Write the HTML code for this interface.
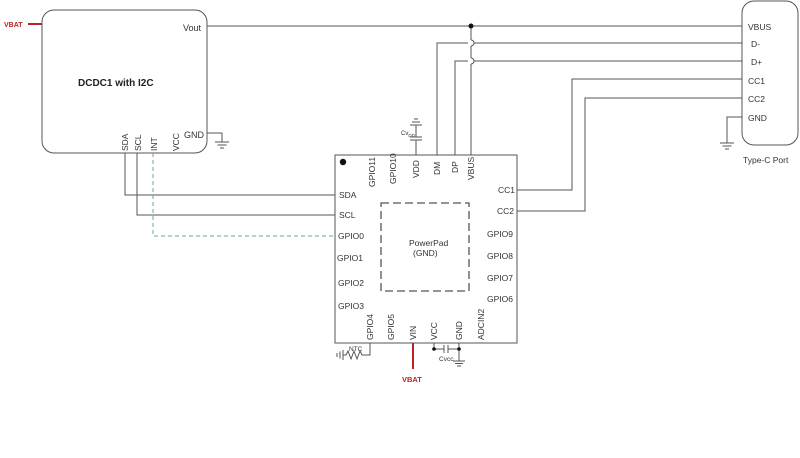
<!DOCTYPE html>
<html><head><meta charset="utf-8"><style>
html,body{margin:0;padding:0;background:#fff;}
svg{display:block;}
text{font-family:"Liberation Sans",sans-serif;font-size:8.5px;fill:#333;}
</style></head><body>
<svg width="800" height="458" viewBox="0 0 800 458" xmlns="http://www.w3.org/2000/svg">
<g fill="none" stroke="#555" stroke-width="1">
<!-- DCDC box -->
<rect x="42" y="10" width="165" height="143" rx="12"/>
<!-- Type-C -->
<rect x="742" y="1" width="56" height="144" rx="12"/>
<!-- chip -->
<rect x="335" y="155" width="182" height="188"/>
<rect x="381" y="203" width="88" height="88" stroke-dasharray="8,4" stroke-width="1.3"/>
<!-- Vout / VBUS -->
<line x1="207" y1="26" x2="742" y2="26"/>
<line x1="471" y1="26" x2="471" y2="40"/>
<path d="M471 40 a3 3 0 0 1 0 6"/>
<line x1="471" y1="46" x2="471" y2="58"/>
<path d="M471 58 a3 3 0 0 1 0 6"/>
<line x1="471" y1="64" x2="471" y2="155"/>
<!-- D- -->
<polyline points="437,155 437,43 468,43"/>
<line x1="474" y1="43" x2="742" y2="43"/>
<!-- D+ -->
<polyline points="455,155 455,61 468,61"/>
<line x1="474" y1="61" x2="742" y2="61"/>
<!-- CC1/CC2 -->
<polyline points="742,79 572,79 572,190 517,190"/>
<polyline points="742,98 585,98 585,211 517,211"/>
<!-- type-c GND -->
<polyline points="742,117 727,117 727,143"/>
<line x1="720" y1="143" x2="734" y2="143"/><line x1="722.5" y1="146" x2="731.5" y2="146"/><line x1="725" y1="149" x2="729" y2="149"/>
<!-- DCDC GND -->
<polyline points="207,133 222,133 222,142"/>
<line x1="215" y1="142" x2="229" y2="142"/><line x1="217.5" y1="145" x2="226.5" y2="145"/><line x1="220" y1="148" x2="224" y2="148"/>
<!-- SDA SCL -->
<polyline points="125,153 125,195 335,195"/>
<polyline points="137,153 137,215 335,215"/>
<polyline points="153,153 153,236 335,236" stroke="#6a9" stroke-dasharray="4,3"/>
<!-- VDD cap -->
<line x1="416" y1="155" x2="416" y2="140"/>
<line x1="410" y1="140" x2="422" y2="140"/><line x1="410" y1="137" x2="422" y2="137"/>
<line x1="416" y1="137" x2="416" y2="125"/>
<line x1="410" y1="125" x2="422" y2="125"/><line x1="412" y1="122" x2="420" y2="122"/><line x1="414" y1="119" x2="418" y2="119"/>
<!-- bottom VCC cap -->
<line x1="434" y1="343" x2="434" y2="349"/>
<polyline points="434,349 444,349"/>
<line x1="444" y1="345" x2="444" y2="353"/><line x1="448" y1="345" x2="448" y2="353"/>
<polyline points="448,349 459,349"/>
<line x1="459" y1="343" x2="459" y2="361"/>
<line x1="453" y1="361" x2="465" y2="361"/><line x1="455" y1="363.5" x2="463" y2="363.5"/><line x1="457" y1="366" x2="461" y2="366"/>
<!-- NTC -->
<polyline points="370,343 370,355 362,355 360,351 357,359 354,351 351,359 348,351 346,355 343,355"/>
<line x1="343" y1="350" x2="343" y2="360"/><line x1="340" y1="351.5" x2="340" y2="358.5"/><line x1="337" y1="353" x2="337" y2="357"/>
</g>
<circle cx="471" cy="26" r="2.5" fill="#111"/>
<circle cx="434" cy="349" r="1.8" fill="#111"/>
<circle cx="459" cy="349" r="1.8" fill="#111"/>
<circle cx="343" cy="162" r="3.2" fill="#111"/>
<!-- red lines -->
<line x1="28" y1="24" x2="42" y2="24" stroke="#b22" stroke-width="2"/>
<line x1="413" y1="343" x2="413" y2="369" stroke="#b22" stroke-width="2"/>
<text x="4" y="27" style="font-size:7px;fill:#b22;font-weight:bold">VBAT</text>
<text x="402" y="382" style="font-size:7.5px;fill:#b22;font-weight:bold">VBAT</text>
<!-- DCDC labels -->
<text x="183" y="31" style="font-size:9px">Vout</text>
<text x="78" y="86" style="font-size:10px;font-weight:bold;fill:#222">DCDC1 with I2C</text>
<text x="184" y="138" style="font-size:9px">GND</text>
<text transform="translate(128,151) rotate(-90)" style="font-size:8.5px">SDA</text>
<text transform="translate(141,151) rotate(-90)" style="font-size:8.5px">SCL</text>
<text transform="translate(157,151) rotate(-90)" style="font-size:8.5px">INT</text>
<text transform="translate(179,151) rotate(-90)" style="font-size:8.5px">VCC</text>
<!-- Type-C labels -->
<text x="748" y="30">VBUS</text>
<text x="751" y="47">D-</text>
<text x="751" y="65">D+</text>
<text x="748" y="84">CC1</text>
<text x="748" y="102">CC2</text>
<text x="748" y="121">GND</text>
<text x="743" y="163">Type-C Port</text>
<!-- chip labels -->
<text x="339" y="198">SDA</text>
<text x="339" y="218">SCL</text>
<text x="338" y="239">GPIO0</text>
<text x="337" y="261">GPIO1</text>
<text x="338" y="286">GPIO2</text>
<text x="338" y="309">GPIO3</text>
<text x="498" y="193">CC1</text>
<text x="497" y="214">CC2</text>
<text x="487" y="237">GPIO9</text>
<text x="487" y="259">GPIO8</text>
<text x="487" y="281">GPIO7</text>
<text x="487" y="302">GPIO6</text>
<text x="409" y="246">PowerPad</text>
<text x="413" y="256">(GND)</text>
<text transform="translate(375,187) rotate(-90)">GPIO11</text>
<text transform="translate(396,184) rotate(-90)">GPIO10</text>
<text transform="translate(419,178) rotate(-90)">VDD</text>
<text transform="translate(440,175) rotate(-90)">DM</text>
<text transform="translate(458,173) rotate(-90)">DP</text>
<text transform="translate(474,180) rotate(-90)">VBUS</text>
<text x="401" y="135" style="font-size:6px">Cv<tspan style="font-size:4.5px" dy="2">DD</tspan></text>
<text transform="translate(373,340) rotate(-90)">GPIO4</text>
<text transform="translate(394,340) rotate(-90)">GPIO5</text>
<text transform="translate(416,340) rotate(-90)">VIN</text>
<text transform="translate(437,340) rotate(-90)">VCC</text>
<text transform="translate(462,340) rotate(-90)">GND</text>
<text transform="translate(484,340) rotate(-90)">ADCIN2</text>
<text x="349" y="351" style="font-size:6.5px">NTC</text>
<text x="439" y="361" style="font-size:6.5px">Cvcc</text>
</svg>
</body></html>
